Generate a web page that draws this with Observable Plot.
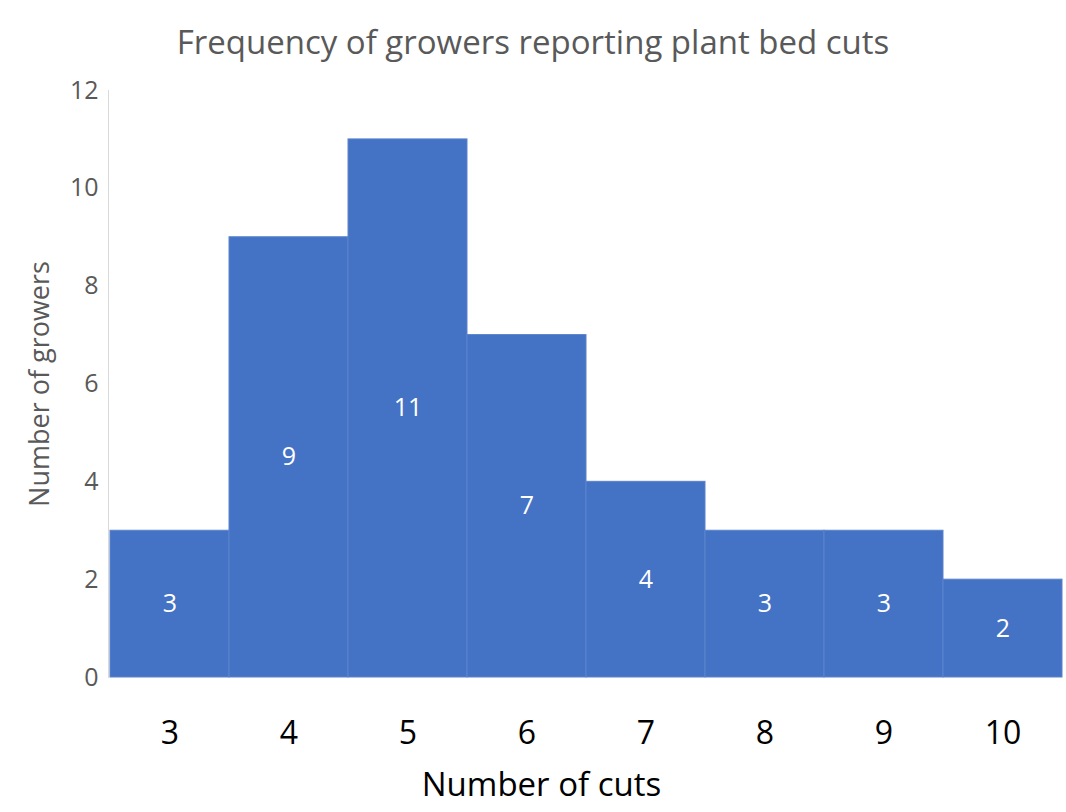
<!DOCTYPE html>
<html>
<head>
<meta charset="utf-8">
<script src="https://cdn.jsdelivr.net/npm/d3@7"></script>
<script src="https://cdn.jsdelivr.net/npm/@observablehq/plot@0.6"></script>
<style>
  html, body { margin: 0; padding: 0; background: #fff; }
  #title { height: 70px; width: 1066px; text-align: center; font-family: "Open Sans", sans-serif; font-size: 33px; color: #595959; line-height: 84px; letter-spacing: 0px; white-space: nowrap; }
  #chart svg { display: block; }
</style>
</head>
<body>
<div id="title">Frequency of growers reporting plant bed cuts</div>
<div id="chart"></div>
<script>
const cuts = ["3", "4", "5", "6", "7", "8", "9", "10"];
const growers = [3, 9, 11, 7, 4, 3, 3, 2];
const yTicks = [0, 2, 4, 6, 8, 10, 12];

const data = cuts.map((c, i) => ({cut: c, n: growers[i]}));

const plot = Plot.plot({
  width: 1066,
  height: 742,
  marginTop: 20,
  marginBottom: 135,
  marginLeft: 110,
  marginRight: 4,
  style: {fontFamily: "Open Sans, sans-serif", background: "#fff"},
  x: {domain: cuts, padding: 0, label: null},
  y: {domain: [0, 12], label: null},
  marks: [
    Plot.frame({anchor: "left", stroke: "#d9d9d9", dx: -2}),
    Plot.barY(data, {x: "cut", y: "n", fill: "#4472C4", stroke: "#5a83cc", strokeWidth: 1, inset: 0}),
    Plot.text(data, {x: "cut", y: d => d.n / 2, text: d => String(d.n), fill: "#ffffff", fontSize: 25}),
    Plot.axisY(yTicks, {tickSize: 0, tickPadding: 12, fontSize: 25, fill: "#595959", label: null}),
    Plot.axisX({tickSize: 0, tickPadding: 44, fontSize: 32, fill: "#000", label: null}),
    Plot.text(["Number of growers"], {frameAnchor: "left", textAnchor: "middle", lineAnchor: "middle", rotate: -90, dx: -70, fontSize: 27, fill: "#595959"}),
    Plot.text(["Number of cuts"], {frameAnchor: "bottom", lineAnchor: "middle", dy: 108, dx: -45, fontSize: 33, fill: "#000"})
  ]
});
document.getElementById("chart").appendChild(plot);
</script>
</body>
</html>
